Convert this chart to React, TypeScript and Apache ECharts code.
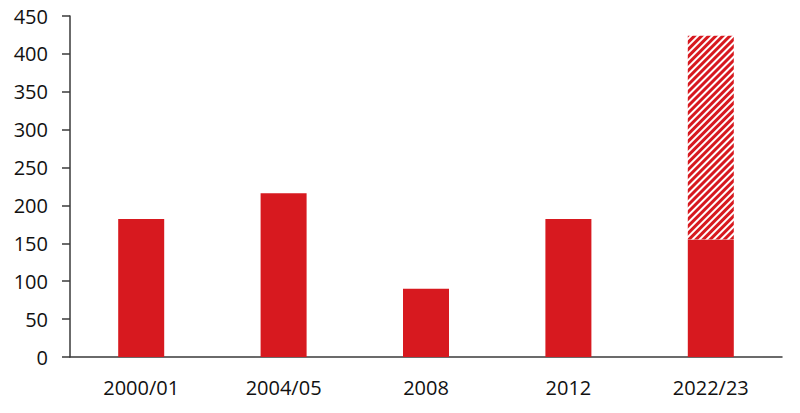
import React, { useEffect, useRef } from "react";
import * as echarts from "echarts";

const categories = ["2000/01", "2004/05", "2008", "2012", "2022/23"];
const solidValues = [182, 216, 90, 182, 155];
const hatchedValues = [null, null, null, null, 269];
const yTicks = { min: 0, max: 450, interval: 50 };

export default function App() {
  const ref = useRef<HTMLDivElement>(null);
  useEffect(() => {
    const chart = echarts.init(ref.current!, null, { renderer: "svg" });
    const red = "#d7191f";
    const font = "Open Sans";
    chart.setOption({
      animation: false,
      grid: { left: 70, right: 18, top: 16, bottom: 56 },
      xAxis: {
        type: "category",
        data: categories,
        axisLine: { lineStyle: { color: "#3a3a3a", width: 1.5 } },
        axisTick: { show: false },
        axisLabel: { color: "#111", fontSize: 20, fontFamily: font, margin: 20 },
      },
      yAxis: {
        type: "value",
        min: yTicks.min,
        max: yTicks.max,
        interval: yTicks.interval,
        splitLine: { show: false },
        axisLine: { show: true, lineStyle: { color: "#3a3a3a", width: 1.5 } },
        axisTick: { show: true, length: 8, lineStyle: { color: "#3a3a3a", width: 1.5 } },
        axisLabel: { color: "#111", fontSize: 20, fontFamily: font, margin: 22 },
      },
      series: [
        {
          type: "bar",
          stack: "total",
          data: solidValues,
          barWidth: 46,
          itemStyle: { color: red },
        },
        {
          type: "bar",
          stack: "total",
          data: hatchedValues,
          barWidth: 46,
          itemStyle: {
            color: "#ffffff",
            decal: {
              symbol: "rect",
              color: red,
              backgroundColor: "#ffffff",
              dashArrayX: [1, 0],
              dashArrayY: [2.2, 1.8],
              rotation: -Math.PI / 4,
            },
          },
        },
      ],
    });
    return () => chart.dispose();
  }, []);
  return <div ref={ref} style={{ width: 800, height: 413, margin: -8 }} />;
}
